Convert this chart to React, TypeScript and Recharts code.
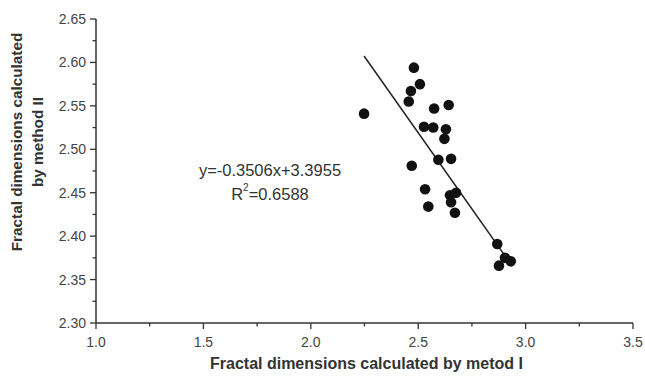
import React from 'react';
import { ScatterChart, Scatter, XAxis, YAxis, ReferenceLine, ReferenceDot } from 'recharts';

const xValues = [2.480, 2.508, 2.466, 2.456, 2.248, 2.574, 2.642, 2.527, 2.570, 2.629, 2.622, 2.594, 2.653, 2.470, 2.532, 2.547, 2.648, 2.676, 2.653, 2.671, 2.868, 2.904, 2.931, 2.876];
const yValues = [2.594, 2.575, 2.567, 2.555, 2.541, 2.547, 2.551, 2.526, 2.525, 2.523, 2.512, 2.488, 2.489, 2.481, 2.454, 2.434, 2.447, 2.450, 2.439, 2.427, 2.391, 2.375, 2.371, 2.366];

const xTicks = [1.0, 1.25, 1.5, 1.75, 2.0, 2.25, 2.5, 2.75, 3.0, 3.25, 3.5];
const xMajor = [1.0, 1.5, 2.0, 2.5, 3.0, 3.5];
const yTicks = [2.3, 2.325, 2.35, 2.375, 2.4, 2.425, 2.45, 2.475, 2.5, 2.525, 2.55, 2.575, 2.6, 2.625, 2.65];
const yMajor = [2.3, 2.35, 2.4, 2.45, 2.5, 2.55, 2.6, 2.65];

const slope = -0.3506;
const intercept = 3.3955;
const fitRange = [2.248, 2.915];
const eqText = 'y=-0.3506x+3.3955';
const r2Text = '=0.6588';
const eqPos = { x: 1.81, y: 2.476 };
const r2Pos = { x: 1.81, y: 2.4485 };

const xLabel = 'Fractal dimensions calculated by metod I';
const yLabel1 = 'Fractal dimensions calculated';
const yLabel2 = 'by method II';

const data = xValues.map((x, i) => ({ x, y: yValues[i] }));
const fitSegment = fitRange.map((x) => ({ x, y: slope * x + intercept }));

const FONT = 'Liberation Sans, Arial, sans-serif';
const TICK_COLOR = '#444';
const AXIS_COLOR = '#333';

const isMajor = (v: number, list: number[]) => list.some((m) => Math.abs(m - v) < 1e-6);

const XTick = (props: any) => {
  const { x, y, payload } = props;
  const major = isMajor(payload.value, xMajor);
  return (
    <g>
      <line x1={x} x2={x} y1={y} y2={y + (major ? 6 : 3.5)} stroke={AXIS_COLOR} strokeWidth={1.3} />
      {major && (
        <text x={x} y={y + 24} textAnchor="middle" fontSize={14} fill={TICK_COLOR} fontFamily={FONT}>
          {payload.value.toFixed(1)}
        </text>
      )}
    </g>
  );
};

const YTick = (props: any) => {
  const { x, y, payload } = props;
  const major = isMajor(payload.value, yMajor);
  return (
    <g>
      <line x1={x - (major ? 6 : 3.5)} x2={x} y1={y} y2={y} stroke={AXIS_COLOR} strokeWidth={1.3} />
      {major && (
        <text x={x - 10} y={y + 5} textAnchor="end" fontSize={14} fill={TICK_COLOR} fontFamily={FONT}>
          {payload.value.toFixed(2)}
        </text>
      )}
    </g>
  );
};

const YAxisLabel = (props: any) => {
  const vb = props.viewBox || { x: 0, y: 19, width: 96, height: 304 };
  const cy = vb.y + vb.height / 2 - 29;
  return (
    <g fontFamily={FONT} fontWeight="bold" fontSize={15.3} fill="#333">
      <text x={16} y={cy} textAnchor="middle" dominantBaseline="central" transform={`rotate(-90 16 ${cy})`}>
        {yLabel1}
      </text>
      <text x={37} y={cy} textAnchor="middle" dominantBaseline="central" transform={`rotate(-90 37 ${cy})`}>
        {yLabel2}
      </text>
    </g>
  );
};

const XAxisLabel = (props: any) => {
  const vb = props.viewBox || { x: 96, y: 323, width: 537, height: 53 };
  const cx = vb.x + vb.width / 2 + 2;
  return (
    <text x={cx} y={vb.y + 46} textAnchor="middle" fontFamily={FONT} fontWeight="bold" fontSize={16} fill="#333">
      {xLabel}
    </text>
  );
};

const Dot = (props: any) => {
  const { cx, cy } = props;
  if (cx == null || cy == null) return null;
  return <circle cx={cx} cy={cy} r={5.3} fill="#111" />;
};

const EqShape = (props: any) => (
  <text x={props.cx} y={props.cy} textAnchor="middle" dominantBaseline="central" fontFamily={FONT} fontSize={16.5} fill="#333">
    {eqText}
  </text>
);

const R2Shape = (props: any) => (
  <text x={props.cx} y={props.cy} textAnchor="middle" dominantBaseline="central" fontFamily={FONT} fontSize={16.5} fill="#333">
    R<tspan fontSize={10} dy={-7}>2</tspan>
    <tspan dy={7}>{r2Text}</tspan>
  </text>
);

export default function App() {
  return (
    <div style={{ position: 'absolute', left: 0, top: 0, width: 645, height: 376, background: '#fff' }}>
      <ScatterChart width={645} height={376} margin={{ top: 19, right: 12, bottom: 0, left: 0 }}>
        <XAxis
          type="number"
          dataKey="x"
          domain={[1.0, 3.5]}
          ticks={xTicks}
          interval={0}
          tickSize={0}
          tickMargin={0}
          tickLine={false}
          tick={<XTick />}
          height={53}
          axisLine={{ stroke: AXIS_COLOR, strokeWidth: 1.5 }}
          allowDataOverflow
          label={<XAxisLabel />}
        />
        <YAxis
          type="number"
          dataKey="y"
          domain={[2.3, 2.65]}
          ticks={yTicks}
          interval={0}
          tickSize={0}
          tickMargin={0}
          tickLine={false}
          tick={<YTick />}
          width={96}
          axisLine={{ stroke: AXIS_COLOR, strokeWidth: 1.5 }}
          allowDataOverflow
          label={<YAxisLabel />}
        />
        <ReferenceLine
          segment={fitSegment}
          stroke="#222"
          strokeWidth={1.5}
          ifOverflow="visible"
        />
        <Scatter data={data} shape={<Dot />} isAnimationActive={false} />
        <ReferenceDot x={eqPos.x} y={eqPos.y} shape={<EqShape />} ifOverflow="visible" />
        <ReferenceDot x={r2Pos.x} y={r2Pos.y} shape={<R2Shape />} ifOverflow="visible" />
      </ScatterChart>
    </div>
  );
}
